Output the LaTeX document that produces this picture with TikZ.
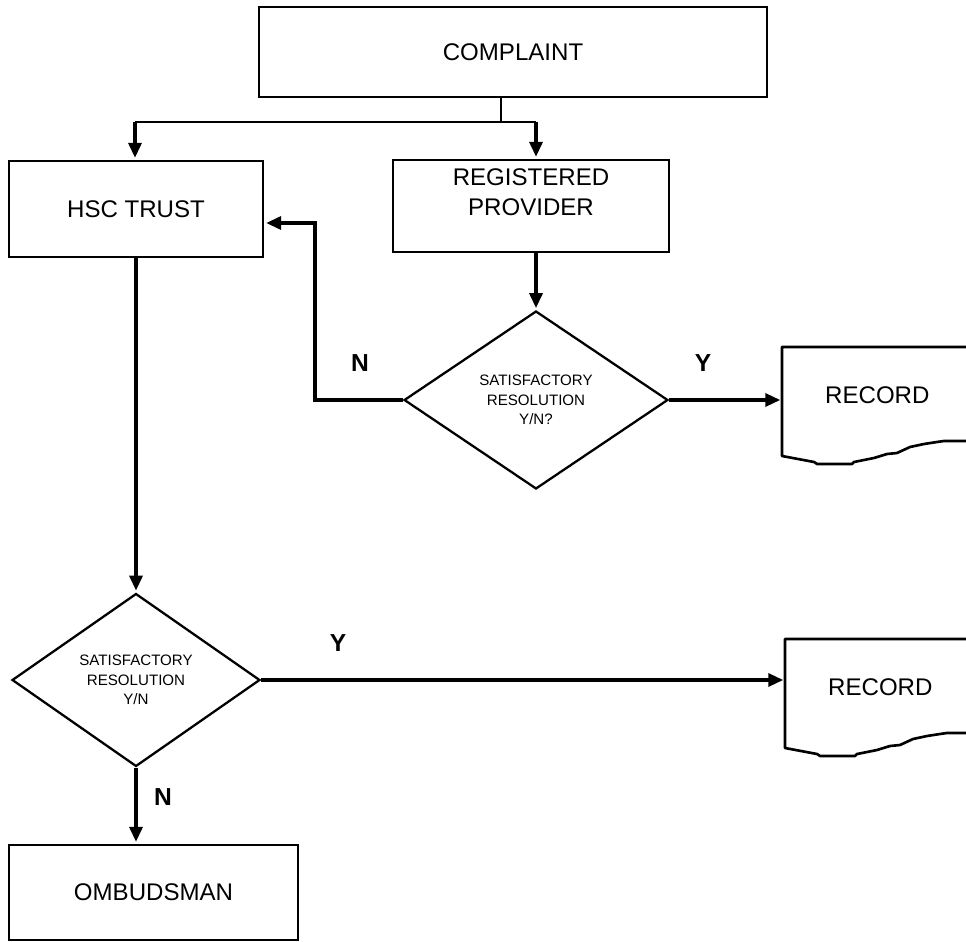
\documentclass[tikz,border=0pt]{standalone}
\usepackage{fontspec}
\setmainfont{Liberation Sans}
\usetikzlibrary{shapes,arrows.meta}
\tikzstyle{block} = [rectangle, draw, line width=1.6pt, text centered, inner sep=0pt,
font=\fontsize{13.7}{17}\selectfont]
\tikzstyle{decision} = [diamond, draw, line width=1.3pt, align=center, inner sep=0pt,
font=\fontsize{8.6}{11.2}\selectfont]
\tikzstyle{record} = [rectangle, anchor=north west, minimum width=3.8cm, minimum
height=1.92cm, font=\fontsize{13.7}{17}\selectfont]
\tikzstyle{recordline} = [draw, line width=1.5pt, line join=round]
\tikzstyle{line} = [draw, line width=1.9pt, -{Triangle[length=0.3cm,width=0.26cm]}, shorten >=1pt]
\tikzstyle{plain} = [draw, line width=1.5pt]
\tikzstyle{answer} = [font=\fontsize{14}{17}\selectfont\bfseries]

% torn lower edge of a record
\newcommand{\recordedge}[1]{%
  \begin{scope}[shift={(#1.north west)}]
    \path[recordline] (190,0) -- (0,0) -- (0,109) -- (32,115) -- (35,117) -- (70,117)
      -- (72,115) -- (92,111) -- (105,107) -- (115,106) -- (128,100) -- (142,97)
      -- (155,95) -- (162,94) -- (190,94);
  \end{scope}}

\begin{document}
\begin{tikzpicture}[x=0.02cm, y=-0.02cm]

   \useasboundingbox (0,0) rectangle (966,942);

   \node[block, minimum width=10.16cm, minimum height=1.8cm] (complaint) at (513,52) {COMPLAINT};
   \node[block, minimum width=5.08cm, minimum height=1.92cm] (hsc) at (136,209) {HSC TRUST};
   \node[block, minimum width=5.52cm, minimum height=1.84cm] (rp) at (531,206) {};
   \node[align=center, font=\fontsize{13.7}{17}\selectfont] (rptext) at (531,192) {REGISTERED\\PROVIDER};

   % Decisions
   \node[decision, minimum width=5.28cm, minimum height=3.56cm] (dec1) at (536,400)
      {SATISFACTORY\\RESOLUTION\\Y/N?};
   \node[decision, minimum width=4.96cm, minimum height=3.46cm] (dec2) at (136,680)
      {SATISFACTORY\\RESOLUTION\\Y/N};

   % Records
   \node[record] (rec1) at (782,347) {RECORD};
   \node[record] (rec2) at (785,639) {RECORD};
   \recordedge{rec1}
   \recordedge{rec2}

   \node[block, minimum width=5.78cm, minimum height=1.9cm] (omb) at (153.5,892.5) {OMBUDSMAN};

   % Answers
   \node[answer] (n1) at (360,363) {N};
   \node[answer] (y1) at (703,363) {Y};
   \node[answer] (y2) at (338,643) {Y};
   \node[answer] (n2) at (163,797) {N};

   %% Lines
   \coordinate (split) at (501,122);
   \coordinate (splitL) at (135,122);
   \coordinate (splitR) at (536,122);
   \coordinate (nturn) at (315,223);

   \path[plain] (complaint.south -| split) -- (split);
   \path[plain] (splitL) -- (splitR);
   \path[line] (splitL) -- (splitL |- hsc.north);
   \path[line] (splitR) -- (splitR |- rp.north);
   \path[line] (rp.south -| dec1.north) -- (dec1.north);
   \path[line] (dec1.west) -| (nturn) -- (nturn -| hsc.east);
   \path[line] (dec1.east) -- (dec1.east -| rec1.west);
   \path[line] (hsc.south) -- (dec2.north);
   \path[line] (dec2.east) -- (dec2.east -| rec2.west);
   \path[line] (dec2.south) -- (dec2.south |- omb.north);

\end{tikzpicture}
\end{document}
